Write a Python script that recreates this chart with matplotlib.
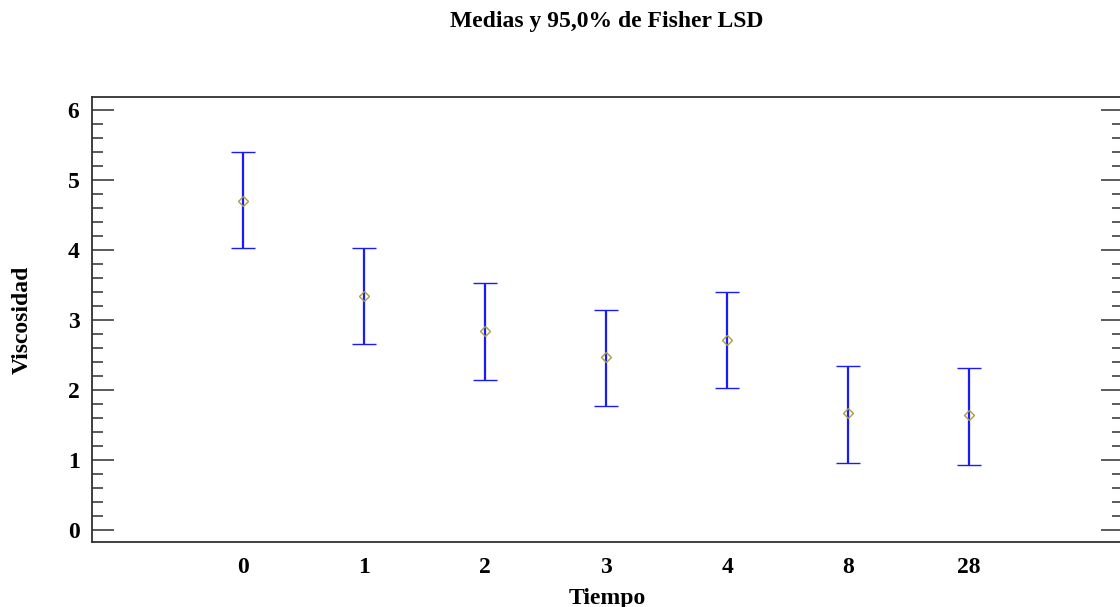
import matplotlib as mpl
mpl.use('Agg')
import matplotlib.pyplot as plt
from matplotlib.ticker import MultipleLocator

# datos
niveles = ['0', '1', '2', '3', '4', '8', '28']
medias = [4.71, 3.34, 2.84, 2.47, 2.71, 1.67, 1.64]
inferior = [4.03, 2.66, 2.14, 1.77, 2.03, 0.96, 0.93]
superior = [5.40, 4.03, 3.53, 3.14, 3.41, 2.34, 2.31]

plt.rcParams['font.family'] = ['Liberation Serif', 'DejaVu Serif']
plt.rcParams['font.weight'] = 'bold'

fig = plt.figure(figsize=(11.2, 6.07), dpi=100)
ax = fig.add_axes([92 / 1120, 1 - 542 / 607, 1031 / 1120, 445 / 607])

x = list(range(len(niveles)))
yerr = [[m - lo for m, lo in zip(medias, inferior)],
        [hi - m for m, hi in zip(medias, superior)]]
ax.errorbar(x, medias, yerr=yerr, fmt='D', ms=5, mfc='none', mec='#a8a040',
            mew=1.0, ecolor='#1a1aff', elinewidth=1.6, capsize=8.5, capthick=1.6)

ax.set_xlim(-1.245, 7.27)
ax.set_ylim(-0.17, 6.19)
ax.set_xticks(x)
ax.set_xticklabels(niveles)
ax.yaxis.set_major_locator(MultipleLocator(1))
ax.yaxis.set_minor_locator(MultipleLocator(0.2))
ax.tick_params(axis='x', length=0, labelsize=17, pad=11)
ax.tick_params(axis='y', which='major', direction='in', length=16, width=1.2,
               color='#404040', left=True, right=True, labelsize=17, pad=9)
ax.tick_params(axis='y', which='minor', direction='in', length=8, width=1.2,
               color='#404040', left=True, right=True)
for s in ax.spines.values():
    s.set_color('#303030')
    s.set_linewidth(1.3)

ax.set_xlabel('Tiempo', fontsize=17, fontweight='bold', labelpad=7)
ax.set_ylabel('Viscosidad', fontsize=17, fontweight='bold', labelpad=25)
fig.text(607 / 1120, 1 - 21 / 607, 'Medias y 95,0% de Fisher LSD', ha='center',
         va='center', fontsize=17, fontweight='bold')

plt.savefig('out.png', dpi=100)
